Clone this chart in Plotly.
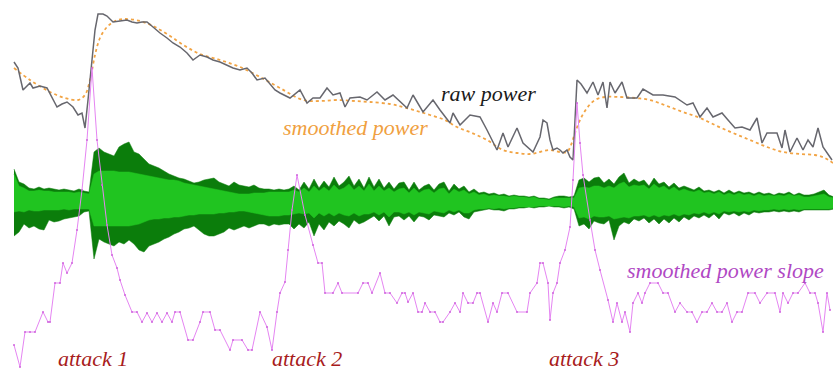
import plotly.graph_objects as go

# ---- raw frame power (gray) ----
raw_t = [14, 18, 23, 30, 33, 40, 47, 52, 57, 62, 67, 73, 78, 82, 85, 88, 92, 95, 98, 103,
         107, 113, 120, 127, 132, 137, 142, 147, 153, 160, 167, 173, 180, 187, 193, 200, 207, 213, 220, 227,
         233, 240, 247, 252, 257, 265, 270, 275, 280, 290, 300, 307, 313, 320, 327, 333, 340, 345, 350, 360,
         367, 377, 385, 393, 407, 413, 423, 433, 440, 450, 453, 460, 470, 480, 487, 497, 503, 508, 517, 523,
         533, 540, 543, 547, 550, 553, 557, 560, 563, 567, 570, 573, 577, 581, 587, 593, 598, 603, 607, 610,
         615, 622, 627, 637, 643, 653, 663, 675, 687, 693, 700, 707, 713, 722, 728, 735, 742, 750, 757, 762,
         767, 777, 782, 785, 790, 797, 803, 808, 813, 818, 823, 832]
raw_power = [308, 302, 280, 287, 282, 284, 282, 273, 263, 266, 268, 263, 255, 257, 242, 270, 310, 340, 356, 356,
             354, 348, 349, 350, 348, 347, 348, 348, 343, 337, 332, 327, 323, 317, 310, 315, 313, 310, 308, 305,
             302, 300, 302, 297, 290, 292, 286, 280, 277, 272, 280, 267, 272, 272, 282, 275, 277, 263, 272, 273,
             270, 278, 270, 275, 262, 275, 258, 270, 260, 247, 257, 245, 255, 253, 240, 220, 237, 223, 242, 227,
             218, 233, 250, 247, 230, 220, 222, 220, 217, 220, 213, 210, 290, 286, 277, 288, 275, 288, 262, 288,
             277, 288, 272, 272, 281, 275, 275, 273, 265, 267, 253, 262, 253, 257, 250, 242, 243, 240, 252, 227,
             237, 237, 222, 240, 218, 232, 220, 230, 223, 242, 223, 210]

# ---- smoothed power (orange, dotted) ----
smooth_t = [14, 30, 50, 65, 78, 85, 90, 95, 100, 107, 115, 125, 140, 155, 170, 185, 200, 220, 240, 260,
            280, 303, 320, 337, 355, 370, 390, 403, 417, 430, 445, 457, 472, 487, 503, 517, 530, 540, 550, 560,
            567, 571, 575, 580, 587, 595, 605, 620, 635, 650, 667, 683, 700, 717, 733, 750, 767, 783, 800, 815,
            825, 833]
smoothed_power = [302, 290, 278, 272, 270, 275, 290, 315, 332, 343, 349, 351, 349, 343, 334, 324, 316, 310, 303, 293,
                  282, 270, 269, 270, 269, 268, 266, 263, 259, 255, 250, 243, 237, 230, 220, 217, 216, 218, 220, 218,
                  218, 225, 237, 250, 262, 270, 273, 273, 272, 270, 264, 258, 252, 244, 237, 230, 223, 218, 216, 215,
                  212, 207]

# ---- smoothed power slope (violet, with sample dots) ----
slope_t = [14, 20, 25, 30, 35, 43, 48, 50, 55, 60, 63, 67, 72, 77, 82, 87, 92, 97, 102, 107,
           112, 117, 120, 125, 132, 137, 142, 147, 152, 157, 162, 167, 172, 175, 180, 188, 193, 200, 203, 210,
           215, 220, 230, 233, 242, 248, 252, 260, 267, 272, 277, 280, 285, 288, 292, 297, 305, 313, 318, 322,
           325, 333, 338, 342, 358, 363, 368, 372, 380, 385, 390, 397, 402, 405, 408, 413, 418, 422, 425, 430,
           435, 440, 443, 450, 455, 460, 463, 468, 473, 477, 480, 488, 493, 497, 502, 508, 517, 527, 530, 537,
           540, 543, 548, 550, 553, 557, 560, 565, 570, 573, 577, 580, 583, 590, 595, 600, 608, 613, 617, 622,
           625, 630, 633, 638, 642, 645, 650, 658, 663, 668, 675, 680, 687, 692, 697, 702, 707, 712, 717, 722,
           727, 732, 737, 742, 748, 755, 760, 767, 775, 780, 783, 788, 793, 798, 805, 810, 815, 818, 823, 827,
           830]
slope = [25, 3, 38, 38, 38, 58, 48, 48, 87, 87, 107, 97, 107, 140, 180, 230, 302, 230, 185, 145,
         115, 102, 90, 75, 58, 58, 48, 57, 48, 57, 48, 57, 48, 58, 58, 30, 30, 48, 58, 58,
         40, 40, 20, 30, 30, 20, 20, 58, 43, 20, 58, 77, 88, 120, 160, 195, 155, 125, 107, 107,
         77, 77, 87, 77, 77, 87, 87, 77, 97, 77, 77, 67, 77, 77, 68, 77, 58, 58, 67, 58,
         58, 48, 48, 58, 67, 58, 77, 67, 67, 77, 77, 48, 67, 58, 77, 77, 58, 58, 77, 87,
         107, 107, 87, 50, 77, 87, 107, 120, 143, 190, 267, 227, 195, 150, 120, 100, 70, 48, 67, 48,
         58, 38, 67, 77, 67, 77, 87, 87, 77, 77, 58, 67, 58, 58, 48, 58, 58, 67, 58, 58,
         67, 48, 58, 58, 77, 77, 67, 77, 77, 58, 77, 67, 77, 77, 87, 77, 77, 67, 38, 77,
         60]

# ---- audio waveform: peak (dark) and rms (light) envelopes around the baseline ----
wave_t = list(range(14, 835, 5))
WAVE_BASE = 166
peak_hi = [35, 22, 20, 16, 15, 17, 15, 16, 15, 14, 15, 14, 13, 15, 13, 12, 52, 56, 52, 50,
           48, 57, 60, 62, 52, 50, 45, 40, 38, 36, 33, 30, 28, 26, 25, 23, 21, 22, 24, 25,
           26, 22, 20, 18, 22, 19, 18, 17, 19, 16, 15, 15, 14, 15, 14, 15, 18, 14, 22, 15,
           25, 16, 23, 17, 27, 18, 22, 28, 18, 25, 16, 27, 17, 25, 16, 22, 15, 21, 22, 14,
           22, 14, 18, 20, 14, 20, 22, 13, 20, 15, 18, 12, 15, 11, 12, 10, 11, 9, 10, 8,
           9, 8, 8, 7, 8, 6, 6, 5, 7, 8, 8, 7, 8, 24, 26, 22, 26, 27, 21, 25,
           20, 27, 31, 21, 25, 22, 24, 18, 26, 20, 22, 17, 21, 16, 18, 16, 14, 17, 13, 14,
           12, 14, 11, 14, 11, 13, 11, 12, 10, 12, 10, 11, 9, 11, 10, 12, 9, 11, 9, 9,
           10, 12, 14, 9, 7]
rms_hi = [30, 18, 16, 13, 13, 14, 13, 13, 12, 12, 12, 12, 11, 12, 11, 10, 30, 33, 33, 33,
          33, 32, 32, 32, 31, 30, 29, 28, 27, 26, 25, 24, 24, 23, 21, 20, 19, 18, 17, 16,
          15, 14, 13, 12, 11, 10, 10, 10, 11, 11, 11, 12, 12, 12, 12, 12, 14, 12, 16, 12,
          18, 13, 17, 13, 19, 14, 16, 20, 14, 18, 13, 20, 13, 18, 13, 16, 12, 15, 16, 11,
          16, 11, 14, 15, 11, 15, 16, 10, 15, 12, 14, 10, 12, 9, 10, 8, 9, 8, 8, 7,
          8, 7, 7, 6, 7, 5, 5, 4, 6, 6, 6, 6, 6, 16, 17, 16, 18, 18, 16, 18,
          16, 20, 22, 17, 19, 18, 19, 15, 20, 16, 18, 14, 17, 13, 15, 13, 12, 14, 11, 12,
          10, 12, 9, 11, 9, 11, 9, 10, 8, 10, 8, 9, 8, 9, 8, 10, 8, 9, 7, 7,
          8, 9, 10, 7, 6]
peak_lo = [32, 28, 20, 24, 22, 25, 26, 16, 18, 17, 15, 14, 13, 12, 8, 7, 55, 35, 38, 40,
           42, 38, 40, 36, 40, 46, 48, 42, 40, 38, 35, 33, 30, 28, 25, 24, 22, 26, 30, 32,
           32, 30, 28, 24, 26, 24, 22, 24, 22, 20, 20, 22, 20, 21, 20, 20, 25, 20, 24, 18,
           32, 20, 26, 18, 22, 17, 20, 24, 16, 20, 18, 15, 12, 17, 12, 22, 13, 12, 16, 12,
           18, 12, 13, 16, 11, 12, 13, 9, 11, 8, 13, 15, 8, 7, 6, 5, 6, 6, 7, 5,
           5, 4, 4, 3, 4, 3, 3, 2, 3, 3, 4, 3, 5, 22, 20, 25, 17, 19, 20, 16,
           36, 22, 18, 20, 15, 17, 14, 19, 15, 20, 15, 19, 14, 18, 13, 16, 12, 14, 11, 14,
           10, 15, 9, 11, 9, 12, 9, 11, 8, 9, 8, 8, 7, 8, 7, 8, 7, 8, 6, 6,
           6, 6, 6, 6, 5]
rms_lo = [8, 7, 8, 6, 7, 7, 6, 6, 6, 6, 5, 6, 5, 5, 5, 5, 22, 22, 22, 22,
          22, 22, 22, 22, 21, 20, 18, 16, 15, 15, 14, 14, 13, 13, 12, 11, 11, 10, 10, 10,
          10, 9, 9, 8, 8, 7, 7, 8, 9, 10, 11, 12, 12, 12, 11, 11, 10, 9, 10, 9,
          14, 9, 12, 9, 12, 9, 11, 12, 9, 12, 10, 10, 8, 11, 8, 13, 8, 8, 10, 8,
          11, 8, 9, 10, 7, 8, 9, 6, 8, 6, 9, 9, 6, 5, 5, 4, 5, 4, 5, 4,
          4, 3, 3, 3, 3, 2, 2, 2, 2, 2, 3, 2, 3, 14, 13, 15, 12, 13, 13, 12,
          15, 14, 13, 14, 12, 12, 11, 13, 11, 13, 11, 12, 10, 12, 10, 11, 9, 10, 8, 10,
          8, 10, 7, 8, 7, 8, 7, 8, 6, 7, 6, 6, 5, 6, 5, 6, 5, 6, 5, 5,
          5, 5, 5, 5, 4]

DARK_GREEN = "#0b7d0b"
LIGHT_GREEN = "#20c420"

fig = go.Figure()


def envelope(hi, lo, color):
    upper = [WAVE_BASE + v for v in hi]
    lower = [WAVE_BASE - v for v in lo]
    fig.add_trace(go.Scatter(x=wave_t, y=upper, mode="lines",
                             line=dict(color=color, width=0.5), hoverinfo="skip"))
    fig.add_trace(go.Scatter(x=wave_t, y=lower, mode="lines", fill="tonexty",
                             fillcolor=color, line=dict(color=color, width=0.5),
                             hoverinfo="skip"))


envelope(peak_hi, peak_lo, DARK_GREEN)
envelope(rms_hi, rms_lo, LIGHT_GREEN)

fig.add_trace(go.Scatter(x=smooth_t, y=smoothed_power, mode="lines",
                         line=dict(color="#f2a444", width=1.8, dash="dot", shape="spline")))
fig.add_trace(go.Scatter(x=raw_t, y=raw_power, mode="lines",
                         line=dict(color="#67676e", width=1.5)))
fig.add_trace(go.Scatter(x=slope_t, y=slope, mode="lines+markers",
                         line=dict(color="#e585f2", width=1),
                         marker=dict(color="#cf66dc", size=2)))

label_font = dict(family="Liberation Serif, Times New Roman, serif", size=22)


def label(text, x, y, color):
    fig.add_annotation(x=x, y=y, xref="x", yref="y", text=f"<i>{text}</i>",
                       showarrow=False, xanchor="center", yanchor="middle",
                       font=dict(label_font, color=color))


label("raw power", 488, 277, "#1a1a1a")
label("smoothed power", 355, 243, "#f0a040")
label("smoothed power slope", 725, 100, "#b048c4")
label("attack 1", 93, 12, "#a81c1c")
label("attack 2", 307, 12, "#a81c1c")
label("attack 3", 584, 12, "#a81c1c")

fig.update_layout(
    width=833, height=370,
    margin=dict(l=0, r=0, t=0, b=0),
    paper_bgcolor="white", plot_bgcolor="white",
    showlegend=False,
    xaxis=dict(range=[0, 833], visible=False, fixedrange=True),
    yaxis=dict(range=[0, 370], visible=False, fixedrange=True),
)

fig.write_html("out.html")
